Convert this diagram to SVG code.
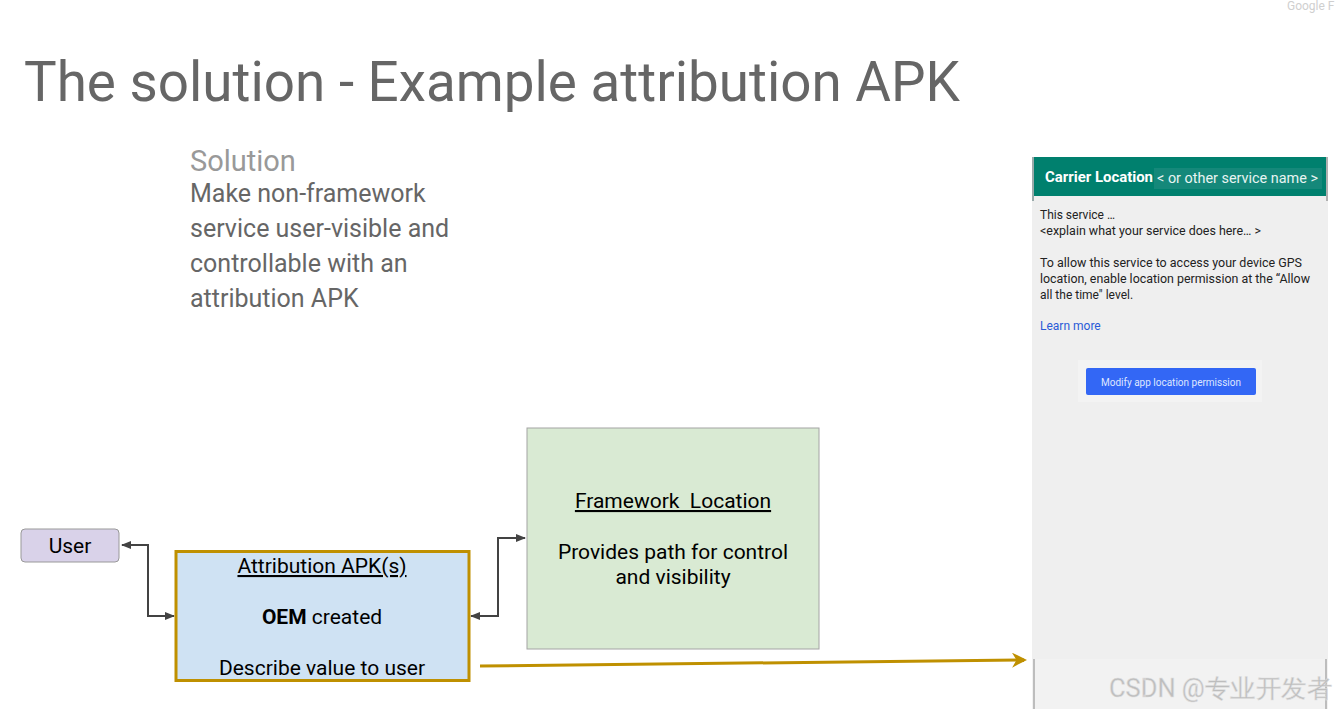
<svg xmlns="http://www.w3.org/2000/svg" width="1336" height="709" viewBox="0 0 1336 709">
<style>
text{font-family:Roboto,"Noto Sans",sans-serif}
.t{fill:#666}
.node{font-size:21px;fill:#000}
.ph{font-size:12px;fill:#222}
.conn{fill:none;stroke:#434343;stroke-width:2}
</style>
<defs>
<marker id="ah" viewBox="0 0 10 10" refX="9" refY="5" markerWidth="5" markerHeight="5" orient="auto-start-reverse" markerUnits="strokeWidth">
<path d="M0,1 L10,5 L0,9 Z" fill="#434343"/>
</marker>
<marker id="ag" viewBox="0 0 10 10" refX="8" refY="5" markerWidth="6" markerHeight="5" orient="auto" markerUnits="strokeWidth">
<path d="M0,0 L10,5 L0,10 L3,5 Z" fill="#bf9000"/>
</marker>
</defs>
<rect width="1336" height="709" fill="#fff"/>
<text x="1287" y="10" font-size="12" fill="#cfcfcf">Google F</text>
<text x="24" y="101" font-size="55" class="t" textLength="936" lengthAdjust="spacingAndGlyphs">The solution - Example attribution APK</text>
<text x="190" y="171" font-size="29" fill="#999">Solution</text>
<g class="t" font-size="25">
<text x="190" y="202">Make non-framework</text>
<text x="190" y="237">service user-visible and</text>
<text x="190" y="272">controllable with an</text>
<text x="190" y="307">attribution APK</text>
</g>
<g id="phone">
<rect x="1032" y="157" width="296" height="552" fill="#efefef"/>
<rect x="1032" y="157" width="296" height="39" fill="#00806e"/>
<rect x="1326" y="157" width="2" height="44" fill="#b0b0b0"/>
<rect x="1032" y="157" width="2" height="44" fill="#9aa"/>
<rect x="1154" y="168" width="168" height="21" fill="#15887a"/>
<text x="1045" y="182" font-size="15" font-weight="bold" fill="#fff" textLength="108" lengthAdjust="spacingAndGlyphs">Carrier Location</text>
<text x="1157" y="183" font-size="15" fill="#e8f4f2" textLength="161" lengthAdjust="spacingAndGlyphs">&lt; or other service name &gt;</text>
<text x="1040" y="219" class="ph">This service …</text>
<text x="1040" y="235" class="ph" textLength="221" lengthAdjust="spacingAndGlyphs">&lt;explain what your service does here… &gt;</text>
<text x="1040" y="267" class="ph" textLength="262" lengthAdjust="spacingAndGlyphs">To allow this service to access your device GPS</text>
<text x="1040" y="283" class="ph" textLength="270" lengthAdjust="spacingAndGlyphs">location, enable location permission at the “Allow</text>
<text x="1040" y="299" class="ph">all the time" level.</text>
<text x="1040" y="330" font-size="12" fill="#2a5bd7">Learn more</text>
<rect x="1078" y="360" width="184" height="42" fill="#f3f3f3"/>
<rect x="1086" y="368" width="170" height="27" rx="2" fill="#3367f5"/>
<text x="1171" y="386" font-size="10" fill="#dfe6ff" text-anchor="middle">Modify app location permission</text>
<rect x="1032" y="659" width="296" height="50" fill="#f2f2f2"/>
<rect x="1033" y="659" width="2" height="50" fill="#bdbdbd"/>
<rect x="1325" y="659" width="2" height="50" fill="#bdbdbd"/>
<text x="1109" y="697" font-size="25" fill="#bdbdbd" stroke="#e0e0e0" stroke-width="0.5" textLength="223" lengthAdjust="spacingAndGlyphs" font-family="'Noto Sans','Noto Sans CJK SC',sans-serif">CSDN @专业开发者</text>
</g>
<g id="connectors">
<path class="conn" d="M174,616 H148 V545 H122" marker-start="url(#ah)" marker-end="url(#ah)"/>
<path class="conn" d="M471,616 H498 V538 H525" marker-start="url(#ah)" marker-end="url(#ah)"/>
<path d="M480,666 L1024,660" fill="none" stroke="#bf9000" stroke-width="3" marker-end="url(#ag)"/>
</g>
<g id="user">
<rect x="21" y="529" width="98" height="33" rx="4" fill="#d9d2e9" stroke="#999"/>
<text x="70" y="553" class="node" text-anchor="middle">User</text>
</g>
<g id="attribution">
<rect x="176" y="551.5" width="293" height="129" fill="#cfe2f3" stroke="#bf9000" stroke-width="3"/>
<text x="322" y="573" class="node" text-anchor="middle" text-decoration="underline">Attribution APK(s)</text>
<text x="322" y="624" class="node" text-anchor="middle"><tspan font-weight="bold">OEM</tspan> created</text>
<text x="322" y="675" class="node" text-anchor="middle">Describe value to user</text>
</g>
<g id="framework">
<rect x="527" y="428" width="292" height="221" fill="#d9ead3" stroke="#a4a4a4"/>
<text x="673" y="508" class="node" text-anchor="middle" text-decoration="underline" xml:space="preserve">Framework  Location</text>
<text x="673" y="559" class="node" text-anchor="middle">Provides path for control</text>
<text x="673" y="584" class="node" text-anchor="middle">and visibility</text>
</g>
</svg>
